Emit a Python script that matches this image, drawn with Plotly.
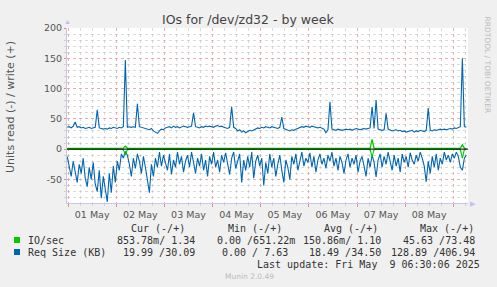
import pandas as pd
import plotly.graph_objects as go

# ---------------- data ----------------
times = pd.date_range("2025-04-30 23:30", periods=200, freq="h")

size_write = [36,37,35,38,45,36,37,35,36,34,
              35,36,34,35,36,65,35,34,33,34,
              33,35,34,36,35,34,36,35,37,147,
              36,37,36,37,36,75,37,36,35,34,
              33,32,34,30,28,26,30,33,32,35,
              36,37,35,38,36,37,35,36,38,37,
              36,37,38,60,37,36,35,37,36,38,
              37,38,37,36,38,39,37,38,36,35,
              34,36,70,36,34,30,32,28,30,27,
              29,31,30,32,33,35,34,36,35,37,
              36,35,37,36,35,34,36,53,34,33,
              31,30,32,31,33,34,36,37,36,38,
              37,36,38,37,36,35,36,34,33,27,
              32,78,33,32,31,33,32,31,32,33,
              32,33,31,32,34,33,32,33,34,33,
              34,35,70,34,81,33,32,31,32,59,
              33,32,30,31,32,30,31,29,30,28,
              29,30,31,28,30,29,31,30,29,31,
              68,31,30,32,31,32,33,32,33,32,
              33,34,33,35,34,36,37,150,37,36]

size_read = [12,30,45,20,38,55,25,40,15,48,
             62,30,50,22,58,70,35,81,45,66,
             87,40,72,28,55,20,35,8,15,4,
             10,25,45,15,32,8,20,40,12,30,
             50,72,25,45,15,30,5,28,10,22,
             35,8,42,18,30,5,25,12,38,20,
             10,30,5,22,40,15,28,8,35,18,
             45,12,25,5,30,18,38,10,22,6,
             28,42,15,5,32,20,8,55,18,35,
             12,30,5,48,20,10,28,15,60,22,
             40,8,30,15,45,25,10,35,55,18,
             30,50,12,25,8,35,18,5,28,15,
             22,6,30,12,38,18,8,25,15,32,
             10,20,5,28,15,35,12,22,40,18,
             8,30,15,25,10,38,20,12,28,45,
             15,30,10,22,46,18,8,30,12,25,
             5,20,35,10,28,15,38,8,22,12,
             30,6,18,25,10,20,5,15,28,54,
             20,40,12,30,8,35,15,25,5,18,
             10,22,8,15,5,12,30,35,15,10]

io_write = [1.1,1.2,1.0,1.1,1.3,1.1,1.0,1.2,1.1,1.1,
            1.0,1.1,1.2,1.1,1.0,1.3,1.1,1.2,1.1,1.0,
            1.1,1.2,1.1,1.0,1.1,1.2,1.1,1.3,1.6,5.0,
            1.4,1.1,1.0,1.1,1.2,1.1,1.0,1.1,1.2,1.1,
            1.0,1.1,1.1,1.2,1.0,1.1,1.1,1.2,1.1,1.0,
            1.1,1.2,1.1,1.0,1.1,1.1,1.2,1.1,1.0,1.1,
            1.2,1.1,1.0,1.3,1.1,1.0,1.1,1.2,1.1,1.0,
            1.1,1.2,1.1,1.0,1.1,1.1,1.2,1.1,1.0,1.1,
            1.1,1.0,1.3,1.1,1.0,1.1,1.2,1.1,1.0,1.1,
            1.2,1.1,1.0,1.1,1.1,1.2,1.1,1.0,1.1,1.2,
            1.1,1.0,1.1,1.2,1.1,1.0,1.1,1.2,1.1,1.0,
            1.1,1.2,1.1,1.0,1.1,1.1,1.2,1.1,1.0,1.1,
            1.2,1.1,1.0,1.1,1.1,1.2,1.1,1.0,1.1,1.1,
            1.0,1.3,1.1,1.0,1.1,1.2,1.1,1.0,1.1,1.2,
            1.1,1.0,1.1,1.2,1.1,1.0,1.1,1.2,1.1,1.0,
            1.1,1.3,16.0,1.5,1.2,1.1,1.0,1.1,1.2,1.1,
            1.0,1.1,1.1,1.2,1.1,1.0,1.1,1.2,1.1,1.0,
            1.1,1.2,1.1,1.0,1.1,1.1,1.2,1.1,1.0,1.1,
            1.3,1.1,1.0,1.1,1.2,1.1,1.0,1.1,1.2,1.1,
            1.0,1.1,1.2,1.1,1.0,1.2,1.5,7.0,1.6,1.3]

io_read = [0.2,0.1,0.3,0.1,0.2,0.1,0.2,0.3,0.1,0.2,
           0.1,0.2,0.1,0.3,0.2,0.1,0.2,0.1,0.2,0.1,
           0.2,0.1,0.3,0.1,0.2,0.1,0.2,0.3,0.8,10.0,
           0.6,0.2,0.1,0.2,0.1,0.2,0.1,0.2,0.1,0.2,
           0.1,0.2,0.1,0.1,0.2,0.1,0.2,0.1,0.2,0.1,
           0.2,0.1,0.2,0.1,0.1,0.2,0.1,0.2,0.1,0.2,
           0.1,0.2,0.1,0.2,0.1,0.1,0.2,0.1,0.2,0.1,
           0.2,0.1,0.2,0.1,0.1,0.2,0.1,0.2,0.1,0.2,
           0.1,0.2,0.1,0.1,0.2,0.1,0.2,0.1,0.2,0.1,
           0.2,0.1,0.2,0.1,0.1,0.2,0.1,0.2,0.1,0.2,
           0.1,0.2,0.1,0.1,0.2,0.1,0.2,0.1,0.2,0.1,
           0.2,0.1,0.2,0.1,0.1,0.2,0.1,0.2,0.1,0.2,
           0.1,0.2,0.1,0.1,0.2,0.1,0.2,0.1,0.2,0.1,
           0.2,0.1,0.2,0.1,0.1,0.2,0.1,0.2,0.1,0.2,
           0.1,0.2,0.1,0.1,0.2,0.1,0.2,0.1,0.2,0.1,
           0.2,0.4,13.0,0.5,0.2,0.1,0.2,0.1,0.2,0.1,
           0.2,0.1,0.2,0.1,0.1,0.2,0.1,0.2,0.1,0.2,
           0.1,0.2,0.1,0.1,0.2,0.1,0.2,0.1,0.2,0.1,
           0.2,0.1,0.2,0.1,0.1,0.2,0.1,0.2,0.1,0.2,
           0.1,0.2,0.1,0.1,0.2,0.3,0.8,15.0,0.9,0.3]

day_ticks = pd.date_range("2025-05-01", periods=9, freq="D")
day_labels = ["01 May", "02 May", "03 May", "04 May", "05 May",
              "06 May", "07 May", "08 May", ""]
y_ticks = [-50, 0, 50, 100, 150, 200]

legend_rows = [
    ("IO/sec", "#00CC00", "853.78m/ 1.34", "0.00 /651.22m", "150.86m/ 1.10", "45.63 /73.48"),
    ("Req Size (KB)", "#0066B3", "19.99 /30.09", "0.00 / 7.63", "18.49 /34.50", "128.89 /406.94"),
]
headers = ["Cur (-/+)", "Min (-/+)", "Avg (-/+)", "Max (-/+)"]

# ---------------- figure ----------------
W, H = 497, 287
L, R, T, B = 67, 468, 28, 203
GREEN, BLUE = "#00CC00", "#0066B3"

def px(x):
    return (x - L) / (R - L)

def py(y):
    return (B - y) / (B - T)

fig = go.Figure()
fig.add_trace(go.Scatter(x=times, y=[-v for v in size_read], mode="lines",
                         line=dict(color=BLUE, width=1.1), showlegend=False))
fig.add_trace(go.Scatter(x=times, y=size_write, mode="lines",
                         line=dict(color=BLUE, width=1.1), showlegend=False))
fig.add_trace(go.Scatter(x=times, y=[-v for v in io_read], mode="lines",
                         line=dict(color=GREEN, width=1.1), showlegend=False))
fig.add_trace(go.Scatter(x=times, y=io_write, mode="lines",
                         line=dict(color=GREEN, width=1.3), showlegend=False))

# zero rule
fig.add_shape(type="line", xref="paper", yref="y", x0=0, x1=1, y0=0, y1=0,
              line=dict(color="black", width=1), layer="above")

grid_major = "rgba(235,140,140,0.55)"
grid_minor = "rgba(175,175,175,0.45)"
axis_col = "#C8C8E6"
tick_font = dict(family="DejaVu Sans", size=9.5, color="#555555")

fig.update_xaxes(
    type="date",
    range=["2025-04-30 23:25", "2025-05-09 07:19"],
    tickmode="array", tickvals=day_ticks, ticktext=day_labels,
    ticklabelshift=24,
    showgrid=True, gridcolor=grid_major, griddash="dot", gridwidth=1,
    ticks="outside", ticklen=3, tickcolor="rgba(230,120,120,0.8)",
    minor=dict(dtick=6 * 3600 * 1000, tick0="2025-05-01", showgrid=True,
               gridcolor=grid_minor, griddash="dot", ticks="outside",
               ticklen=2, tickcolor="#d0d0d0"),
    showline=True, linecolor=axis_col, linewidth=1,
    tickfont=tick_font, zeroline=False, fixedrange=True,
)
fig.update_yaxes(
    range=[-89, 200],
    tickmode="array", tickvals=y_ticks, ticktext=[str(v) for v in y_ticks],
    showgrid=True, gridcolor=grid_major, griddash="dot", gridwidth=1,
    ticks="outside", ticklen=2, tickcolor="rgba(230,120,120,0.8)",
    minor=dict(dtick=10, tick0=0, showgrid=True, gridcolor=grid_minor,
               griddash="dot", ticks="outside", ticklen=2, tickcolor="#d0d0d0"),
    showline=True, linecolor=axis_col, linewidth=1,
    tickfont=tick_font, zeroline=False, fixedrange=True,
)

ann = []
# title
ann.append(dict(text="IOs for /dev/zd32 - by week", x=px(248), y=py(19),
                xref="paper", yref="paper", showarrow=False,
                font=dict(family="DejaVu Sans", size=12.5, color="#444444"),
                xanchor="center", yanchor="middle"))
# y axis title
ann.append(dict(text="Units read (-) / write (+)", x=px(10), y=py(107),
                xref="paper", yref="paper", showarrow=False, textangle=-90,
                font=dict(family="DejaVu Sans", size=11, color="#555555"),
                xanchor="center", yanchor="middle"))
# watermark
ann.append(dict(text="RRDTOOL / TOBI OETIKER", x=px(487), y=py(14),
                xref="paper", yref="paper", showarrow=False, textangle=90,
                font=dict(family="DejaVu Sans", size=7.5, color="#BBBBBB"),
                xanchor="center", yanchor="top"))
# Munin version
ann.append(dict(text="Munin 2.0.49", x=px(249), y=py(276),
                xref="paper", yref="paper", showarrow=False,
                font=dict(family="DejaVu Sans", size=7.5, color="#BBBBBB"),
                xanchor="center", yanchor="middle"))
# axis arrows
ann.append(dict(text="▶", x=px(468), y=py(203), xref="paper", yref="paper",
                showarrow=False, font=dict(size=7, color="#C0C0F0"),
                xanchor="left", yanchor="middle"))
ann.append(dict(text="▲", x=px(67), y=py(28), xref="paper", yref="paper",
                showarrow=False, font=dict(size=7, color="#C0C0F0"),
                xanchor="center", yanchor="bottom"))

mono = dict(family="DejaVu Sans Mono", size=10, color="#333333")
for h, xr in zip(headers, [187, 284, 380, 476]):
    ann.append(dict(text=h, x=px(xr), y=py(228), xref="paper", yref="paper",
                    showarrow=False, font=mono, xanchor="right", yanchor="middle"))

shapes = []
for i, (name, col, cur, mn, avg, mx) in enumerate(legend_rows):
    yc = 240 + 12 * i
    shapes.append(dict(type="rect", xref="paper", yref="paper",
                       x0=px(14), x1=px(20), y0=py(yc + 3), y1=py(yc - 3),
                       fillcolor=col, line=dict(width=0)))
    ann.append(dict(text=name, x=px(26), y=py(yc), xref="paper", yref="paper",
                    showarrow=False, font=mono, xanchor="left", yanchor="middle"))
    for txt, xr in zip([cur, mn, avg, mx], [197, 297 if i == 0 else 290, 383, 477]):
        ann.append(dict(text=txt, x=px(xr), y=py(yc), xref="paper", yref="paper",
                        showarrow=False, font=mono, xanchor="right", yanchor="middle"))

ann.append(dict(text="Last update: Fri May&nbsp; 9 06:30:06 2025",
                x=px(482), y=py(264), xref="paper", yref="paper",
                showarrow=False, font=mono, xanchor="right", yanchor="middle"))

for s in shapes:
    fig.add_shape(**s)

fig.update_layout(
    width=W, height=H,
    margin=dict(l=L, r=W - R, t=T, b=H - B, pad=0),
    paper_bgcolor="#F0F0F0", plot_bgcolor="#FFFFFF",
    annotations=ann, showlegend=False,
)

fig.write_html("out.html", config={"displayModeBar": False})
